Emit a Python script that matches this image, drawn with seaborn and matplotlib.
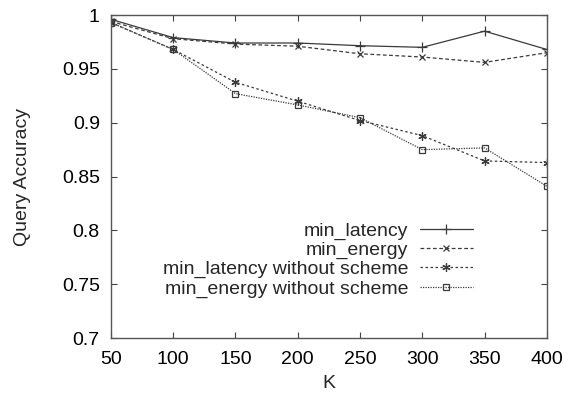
import numpy as np
import pandas as pd
import matplotlib
matplotlib.use("Agg")
import matplotlib.pyplot as plt
import seaborn as sns
from matplotlib.ticker import FuncFormatter

K = [50, 100, 150, 200, 250, 300, 350, 400]
min_latency = [0.996, 0.979, 0.974, 0.974, 0.9715, 0.970, 0.985, 0.968]
min_energy = [0.994, 0.978, 0.973, 0.971, 0.964, 0.961, 0.956, 0.965]
min_latency_wo = [0.993, 0.968, 0.9375, 0.920, 0.902, 0.888, 0.8645, 0.863]
min_energy_wo = [0.993, 0.968, 0.927, 0.9165, 0.9047, 0.875, 0.8766, 0.841]

labels = ["min_latency", "min_energy", "min_latency without scheme", "min_energy without scheme"]
series = [min_latency, min_energy, min_latency_wo, min_energy_wo]
styles = [
    dict(linestyle="-", marker="+", markersize=7),
    dict(linestyle=(0, (3, 2)), marker="x", markersize=5),
    dict(linestyle=(0, (2, 2)), marker=(6, 2, 0), markersize=6),
    dict(linestyle=(0, (1, 1)), marker="s", markersize=5, markerfacecolor="none"),
]

sns.set_theme(style="ticks")
plt.rcParams["font.family"] = ["Liberation Sans", "DejaVu Sans"]

fig = plt.figure(figsize=(5.69, 3.95), dpi=100)
ax = fig.add_axes([0.195, 0.144, 0.766, 0.818])

color = "#3a3a3a"
for lab, vals, st in zip(labels, series, styles):
    df = pd.DataFrame({"K": K, "acc": vals})
    sns.lineplot(data=df, x="K", y="acc", ax=ax, label=lab, color=color,
                 linewidth=0.9, markeredgewidth=0.9, markeredgecolor=color, **st)

FS = 14
ax.set_xlim(50, 400)
ax.set_ylim(0.7, 1.0)
ax.set_xticks(K)
ax.set_yticks([0.7, 0.75, 0.8, 0.85, 0.9, 0.95, 1.0])
ax.yaxis.set_major_formatter(FuncFormatter(lambda v, p: f"{v:g}"))
ax.tick_params(direction="in", length=4.5, width=0.8, colors="#444444",
               labelcolor="black", labelsize=FS, top=True, right=True)
ax.tick_params(axis="x", pad=9)
ax.tick_params(axis="y", pad=8)
for s in ax.spines.values():
    s.set_color("#555555")
    s.set_linewidth(1.0)
ax.set_xlabel("K", fontsize=FS, labelpad=5)
ax.set_ylabel("Query Accuracy", fontsize=FS, labelpad=22)

leg = ax.legend(loc="lower right", bbox_to_anchor=(0.83, 0.125), frameon=False,
                markerfirst=False, fontsize=FS, handlelength=2.7, handletextpad=0.6,
                labelspacing=0.08, borderpad=0, borderaxespad=0)
# right-align each row so that texts end at the same x
for col in leg._legend_handle_box.get_children():
    col.align = "right"

fig.savefig("out.png", dpi=100)
